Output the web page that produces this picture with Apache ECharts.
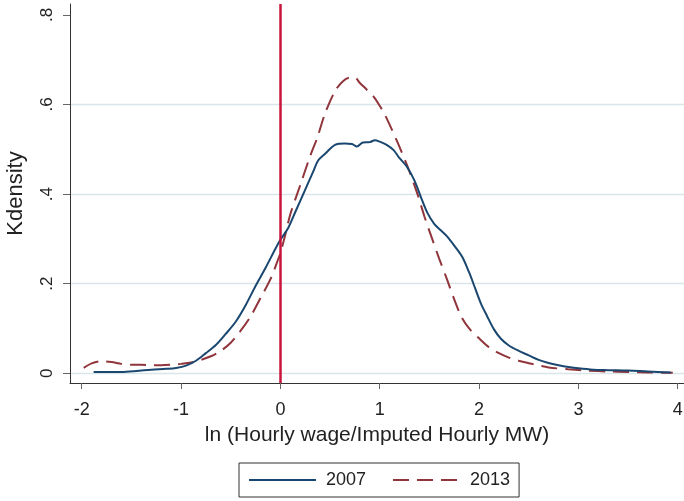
<!DOCTYPE html>
<html><head><meta charset="utf-8">
<script src="https://cdn.jsdelivr.net/npm/echarts@6/dist/echarts.min.js"></script>
<style>html,body{margin:0;padding:0;background:#fff}#c{width:684px;height:501px}</style>
</head><body><div id="c"></div>
<script>
const seriesNames = ['2007', '2013'];
const x2007 = [-1.88,-1.6,-1.45,-1.3,-1.15,-1.05,-0.95,-0.85,-0.75,-0.65,-0.55,-0.45,-0.35,-0.25,-0.15,-0.05,0,0.08,0.15,0.25,0.33,0.38,0.45,0.55,0.65,0.72,0.77,0.83,0.9,0.95,1.0,1.07,1.14,1.2,1.27,1.35,1.42,1.48,1.55,1.62,1.68,1.75,1.83,1.9,1.96,2.02,2.08,2.15,2.22,2.3,2.4,2.5,2.6,2.7,2.8,2.9,3.0,3.15,3.3,3.5,3.7,3.93];
const y2007 = [0.003,0.003,0.005,0.008,0.010,0.012,0.017,0.028,0.045,0.063,0.088,0.115,0.152,0.195,0.235,0.278,0.298,0.325,0.36,0.41,0.45,0.475,0.49,0.51,0.513,0.512,0.506,0.515,0.516,0.52,0.517,0.51,0.498,0.48,0.462,0.43,0.39,0.358,0.333,0.318,0.305,0.285,0.26,0.225,0.19,0.155,0.128,0.098,0.077,0.062,0.05,0.04,0.03,0.023,0.018,0.014,0.011,0.008,0.007,0.006,0.004,0.002];
const x2013 = [-1.98,-1.9,-1.8,-1.7,-1.6,-1.5,-1.4,-1.3,-1.2,-1.1,-1.0,-0.9,-0.8,-0.7,-0.6,-0.5,-0.4,-0.3,-0.2,-0.1,-0.03,0.0,0.05,0.1,0.2,0.3,0.37,0.45,0.55,0.63,0.7,0.75,0.8,0.87,0.94,1.0,1.05,1.12,1.2,1.3,1.38,1.45,1.52,1.6,1.68,1.75,1.82,1.9,2.0,2.1,2.2,2.3,2.4,2.55,2.7,2.9,3.1,3.3,3.5,3.7,3.95];
const y2013 = [0.012,0.022,0.027,0.025,0.021,0.019,0.019,0.018,0.018,0.019,0.021,0.024,0.030,0.038,0.050,0.068,0.095,0.127,0.168,0.21,0.25,0.268,0.31,0.355,0.42,0.485,0.525,0.58,0.63,0.652,0.66,0.66,0.648,0.633,0.617,0.597,0.578,0.545,0.505,0.45,0.40,0.35,0.305,0.255,0.208,0.165,0.127,0.10,0.078,0.058,0.045,0.035,0.028,0.02,0.013,0.009,0.006,0.004,0.003,0.002,0.001];
const xTicks = [-2,-1,0,1,2,3,4];
const yTicks = [0,0.2,0.4,0.6,0.8];
const yTickLabels = ['0','.2','.4','.6','.8'];
const refLineX = 0;

const F = "'Liberation Sans', Arial, sans-serif";
const chart = echarts.init(document.getElementById('c'), null, {renderer:'canvas'});
const option = {
  animation:false,
  backgroundColor:'#fff',
  grid:{left:70,right:0,top:4,bottom:118,containLabel:false,outerBoundsMode:'none'},
  xAxis:{
    type:'value', min:-2.118, max:4.063,
    name:'ln (Hourly wage/Imputed Hourly MW)', nameLocation:'middle', nameGap:42,
    nameTextStyle:{fontFamily:F,fontSize:21,color:'#222'},
    axisLine:{show:true,onZero:false,lineStyle:{color:'#333',width:1}},
    axisTick:{show:true,length:6,customValues:xTicks,lineStyle:{color:'#666'}},
    axisLabel:{customValues:xTicks,margin:18,fontFamily:F,fontSize:18,color:'#222',formatter:v=>String(v)},
    splitLine:{show:false}
  },
  yAxis:{
    type:'value', min:-0.0217, max:0.8243,
    name:'Kdensity', nameLocation:'middle', nameGap:43,
    nameTextStyle:{fontFamily:F,fontSize:22,color:'#222'},
    axisLine:{show:true,onZero:false,lineStyle:{color:'#333',width:1}},
    axisTick:{show:true,length:7,customValues:yTicks,lineStyle:{color:'#666'}},
    axisLabel:{customValues:yTicks,margin:14,rotate:90,align:'center',verticalAlign:'bottom',
      fontFamily:F,fontSize:17,color:'#222',
      formatter:v=>{const i=yTicks.findIndex(t=>Math.abs(t-v)<1e-9);return i>=0?yTickLabels[i]:'';}},
    splitLine:{show:true,lineStyle:{color:['#dae5ea','#dae5ea','#dae5ea','#dae5ea','rgba(0,0,0,0)'],width:1.3}}
  },
  legend:{
    left:239, top:463, orient:'horizontal', itemWidth:67, itemHeight:20, itemGap:26,
    padding:[8,9,8,9], borderColor:'#333', borderWidth:1,
    textStyle:{fontFamily:F,fontSize:18,color:'#222',padding:[0,0,0,5]},
    itemStyle:{opacity:0},
    data:seriesNames
  },
  series:[
    {name:seriesNames[0], type:'line', symbol:'none', smooth:0.3, z:3,
     data:x2007.map((x,i)=>[x,y2007[i]]),
     lineStyle:{color:'#1a476f',width:2}, itemStyle:{color:'#1a476f'},
     markLine:{silent:true,animation:false,symbol:['none','none'],label:{show:false},
       lineStyle:{color:'#c8143c',width:2.5,type:'solid'},data:[{xAxis:refLineX}]}},
    {name:seriesNames[1], type:'line', symbol:'none', smooth:0.3, z:2,
     data:x2013.map((x,i)=>[x,y2013[i]]),
     lineStyle:{color:'#90353b',width:2,type:[16,8]}, itemStyle:{color:'#90353b'}}
  ]
};
chart.setOption(option);
</script></body></html>
